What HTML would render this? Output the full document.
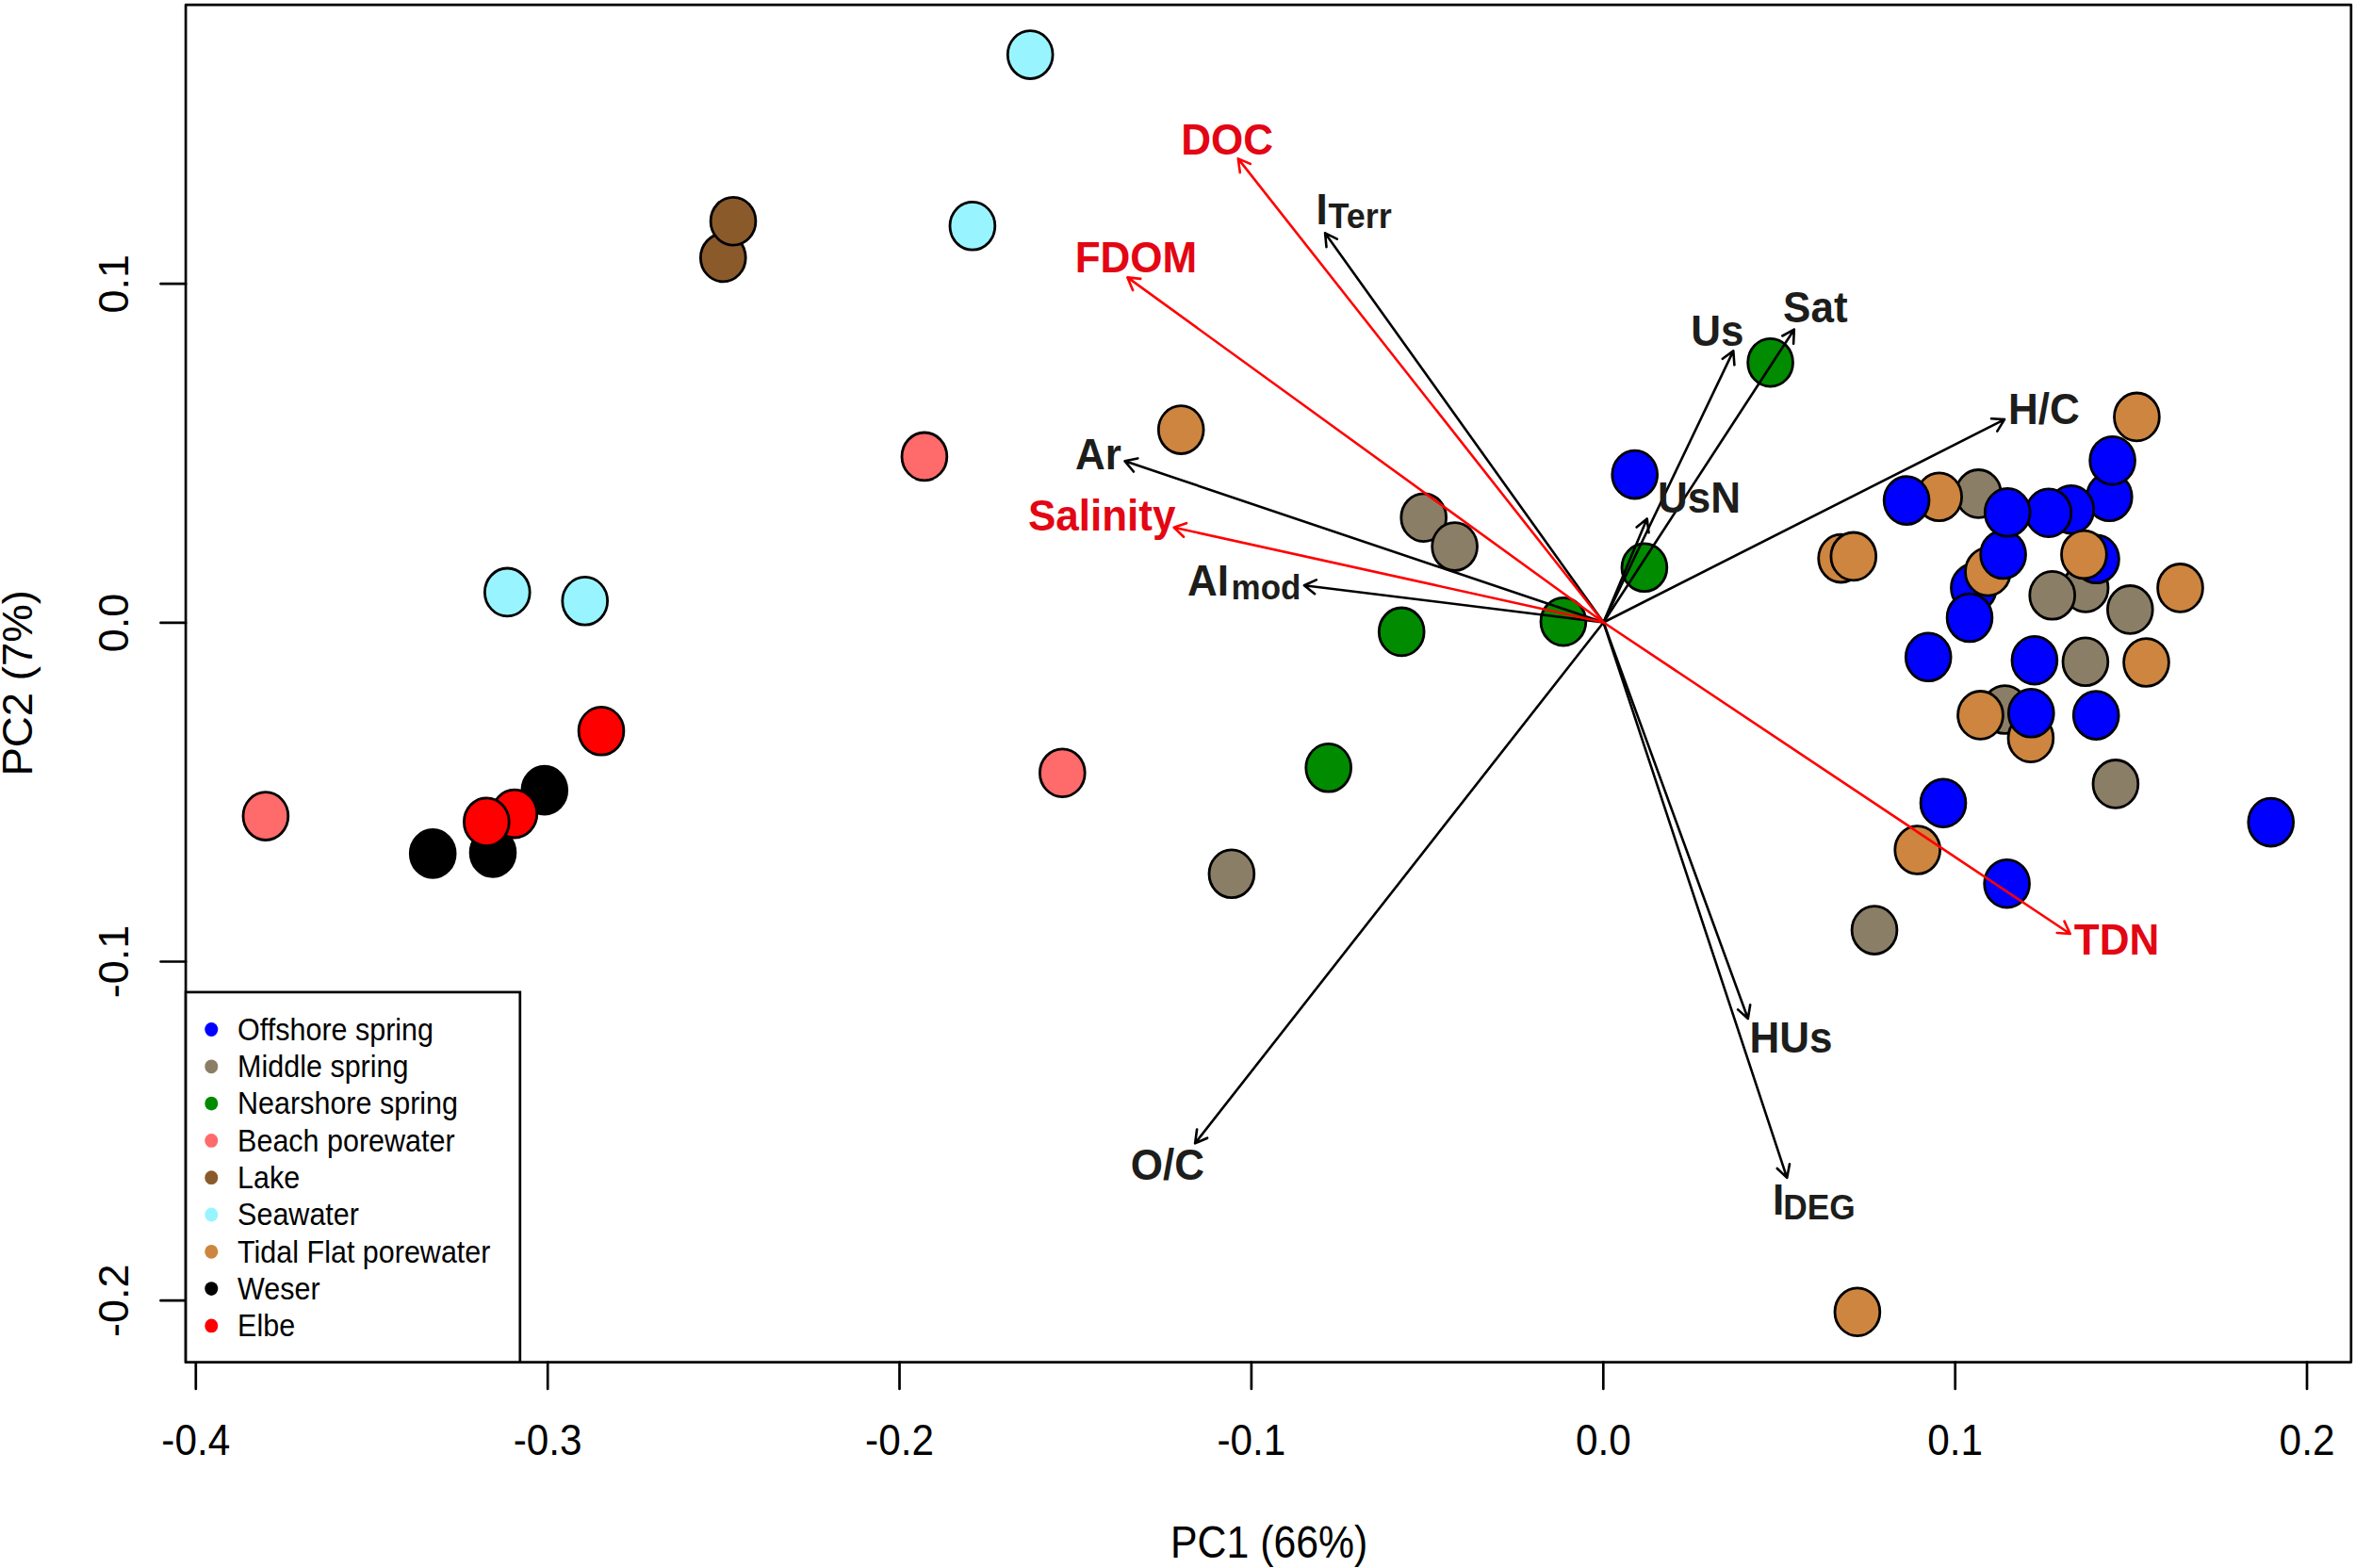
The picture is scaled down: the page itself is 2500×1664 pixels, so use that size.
<!DOCTYPE html>
<html><head><meta charset="utf-8"><title>PCA biplot</title>
<style>
html,body{margin:0;padding:0;background:#fff;}
svg{display:block;}
text{font-family:"Liberation Sans",Arial,Helvetica,sans-serif;}
.ax{font-size:42.3px;fill:#000;}
.lg{font-size:30.5px;fill:#000;}
.lb{font-size:44px;font-weight:bold;}
.sb{font-size:36px;font-weight:bold;}
.k{fill:#1d1d1b;}
.r{fill:#e30613;}
</style></head><body>
<svg width="2500" height="1664" viewBox="0 0 2500 1664">
<rect width="2500" height="1664" fill="#fff"/>
<ellipse cx="577.8" cy="838.6" rx="23.9" ry="25.4" fill="#000000" stroke="#000" stroke-width="2.8"/>
<ellipse cx="523.0" cy="904.9" rx="23.9" ry="25.4" fill="#000000" stroke="#000" stroke-width="2.8"/>
<ellipse cx="459.2" cy="905.9" rx="23.9" ry="25.4" fill="#000000" stroke="#000" stroke-width="2.8"/>
<ellipse cx="638.0" cy="775.8" rx="23.9" ry="25.4" fill="#FF0000" stroke="#000" stroke-width="2.8"/>
<ellipse cx="545.9" cy="863.6" rx="23.9" ry="25.4" fill="#FF0000" stroke="#000" stroke-width="2.8"/>
<ellipse cx="516.3" cy="872.2" rx="23.9" ry="25.4" fill="#FF0000" stroke="#000" stroke-width="2.8"/>
<ellipse cx="281.9" cy="866.1" rx="23.9" ry="25.4" fill="#FF6A6A" stroke="#000" stroke-width="2.8"/>
<ellipse cx="538.3" cy="628.4" rx="23.9" ry="25.4" fill="#98F5FF" stroke="#000" stroke-width="2.8"/>
<ellipse cx="620.7" cy="637.8" rx="23.9" ry="25.4" fill="#98F5FF" stroke="#000" stroke-width="2.8"/>
<ellipse cx="1093.2" cy="58.1" rx="23.9" ry="25.4" fill="#98F5FF" stroke="#000" stroke-width="2.8"/>
<ellipse cx="1031.9" cy="239.8" rx="23.9" ry="25.4" fill="#98F5FF" stroke="#000" stroke-width="2.8"/>
<ellipse cx="767.3" cy="273.4" rx="23.9" ry="25.4" fill="#8B5A2B" stroke="#000" stroke-width="2.8"/>
<ellipse cx="778.0" cy="234.7" rx="23.9" ry="25.4" fill="#8B5A2B" stroke="#000" stroke-width="2.8"/>
<ellipse cx="980.9" cy="484.4" rx="23.9" ry="25.4" fill="#FF6A6A" stroke="#000" stroke-width="2.8"/>
<ellipse cx="1253.2" cy="456.1" rx="23.9" ry="25.4" fill="#CD853F" stroke="#000" stroke-width="2.8"/>
<ellipse cx="1127.3" cy="820.2" rx="23.9" ry="25.4" fill="#FF6A6A" stroke="#000" stroke-width="2.8"/>
<ellipse cx="1409.7" cy="814.8" rx="23.9" ry="25.4" fill="#008B00" stroke="#000" stroke-width="2.8"/>
<ellipse cx="1306.9" cy="927.3" rx="23.9" ry="25.4" fill="#8B7E66" stroke="#000" stroke-width="2.8"/>
<ellipse cx="1510.7" cy="549.2" rx="23.9" ry="25.4" fill="#8B7E66" stroke="#000" stroke-width="2.8"/>
<ellipse cx="1543.6" cy="580.1" rx="23.9" ry="25.4" fill="#8B7E66" stroke="#000" stroke-width="2.8"/>
<ellipse cx="1734.7" cy="503.6" rx="23.9" ry="25.4" fill="#0000FF" stroke="#000" stroke-width="2.8"/>
<ellipse cx="1878.6" cy="384.7" rx="23.9" ry="25.4" fill="#008B00" stroke="#000" stroke-width="2.8"/>
<ellipse cx="1744.9" cy="602.3" rx="23.9" ry="25.4" fill="#008B00" stroke="#000" stroke-width="2.8"/>
<ellipse cx="1658.9" cy="659.7" rx="23.9" ry="25.4" fill="#008B00" stroke="#000" stroke-width="2.8"/>
<ellipse cx="1487.2" cy="670.4" rx="23.9" ry="25.4" fill="#008B00" stroke="#000" stroke-width="2.8"/>
<ellipse cx="1953.6" cy="592.6" rx="23.9" ry="25.4" fill="#CD853F" stroke="#000" stroke-width="2.8"/>
<ellipse cx="1966.8" cy="590.4" rx="23.9" ry="25.4" fill="#CD853F" stroke="#000" stroke-width="2.8"/>
<ellipse cx="2267.4" cy="442.4" rx="23.9" ry="25.4" fill="#CD853F" stroke="#000" stroke-width="2.8"/>
<ellipse cx="2238.3" cy="527.3" rx="23.9" ry="25.4" fill="#0000FF" stroke="#000" stroke-width="2.8"/>
<ellipse cx="2241.6" cy="488.7" rx="23.9" ry="25.4" fill="#0000FF" stroke="#000" stroke-width="2.8"/>
<ellipse cx="2197.8" cy="540.7" rx="23.9" ry="25.4" fill="#0000FF" stroke="#000" stroke-width="2.8"/>
<ellipse cx="2173.9" cy="544.2" rx="23.9" ry="25.4" fill="#0000FF" stroke="#000" stroke-width="2.8"/>
<ellipse cx="2099.4" cy="523.9" rx="23.9" ry="25.4" fill="#8B7E66" stroke="#000" stroke-width="2.8"/>
<ellipse cx="2057.7" cy="527.3" rx="23.9" ry="25.4" fill="#CD853F" stroke="#000" stroke-width="2.8"/>
<ellipse cx="2023.1" cy="531.1" rx="23.9" ry="25.4" fill="#0000FF" stroke="#000" stroke-width="2.8"/>
<ellipse cx="2094.4" cy="623.9" rx="23.9" ry="25.4" fill="#0000FF" stroke="#000" stroke-width="2.8"/>
<ellipse cx="2109.4" cy="606.7" rx="23.9" ry="25.4" fill="#CD853F" stroke="#000" stroke-width="2.8"/>
<ellipse cx="2125.6" cy="588.5" rx="23.9" ry="25.4" fill="#0000FF" stroke="#000" stroke-width="2.8"/>
<ellipse cx="2130.2" cy="543.8" rx="23.9" ry="25.4" fill="#0000FF" stroke="#000" stroke-width="2.8"/>
<ellipse cx="2090.0" cy="655.5" rx="23.9" ry="25.4" fill="#0000FF" stroke="#000" stroke-width="2.8"/>
<ellipse cx="2213.1" cy="623.9" rx="23.9" ry="25.4" fill="#8B7E66" stroke="#000" stroke-width="2.8"/>
<ellipse cx="2224.5" cy="593.3" rx="23.9" ry="25.4" fill="#0000FF" stroke="#000" stroke-width="2.8"/>
<ellipse cx="2211.4" cy="588.5" rx="23.9" ry="25.4" fill="#CD853F" stroke="#000" stroke-width="2.8"/>
<ellipse cx="2177.7" cy="631.8" rx="23.9" ry="25.4" fill="#8B7E66" stroke="#000" stroke-width="2.8"/>
<ellipse cx="2260.3" cy="646.9" rx="23.9" ry="25.4" fill="#8B7E66" stroke="#000" stroke-width="2.8"/>
<ellipse cx="2313.5" cy="623.9" rx="23.9" ry="25.4" fill="#CD853F" stroke="#000" stroke-width="2.8"/>
<ellipse cx="2046.2" cy="697.3" rx="23.9" ry="25.4" fill="#0000FF" stroke="#000" stroke-width="2.8"/>
<ellipse cx="2158.9" cy="700.7" rx="23.9" ry="25.4" fill="#0000FF" stroke="#000" stroke-width="2.8"/>
<ellipse cx="2212.9" cy="702.3" rx="23.9" ry="25.4" fill="#8B7E66" stroke="#000" stroke-width="2.8"/>
<ellipse cx="2277.5" cy="703.0" rx="23.9" ry="25.4" fill="#CD853F" stroke="#000" stroke-width="2.8"/>
<ellipse cx="2127.4" cy="753.0" rx="23.9" ry="25.4" fill="#8B7E66" stroke="#000" stroke-width="2.8"/>
<ellipse cx="2101.5" cy="758.9" rx="23.9" ry="25.4" fill="#CD853F" stroke="#000" stroke-width="2.8"/>
<ellipse cx="2154.9" cy="783.2" rx="23.9" ry="25.4" fill="#CD853F" stroke="#000" stroke-width="2.8"/>
<ellipse cx="2155.3" cy="756.8" rx="23.9" ry="25.4" fill="#0000FF" stroke="#000" stroke-width="2.8"/>
<ellipse cx="2224.2" cy="759.1" rx="23.9" ry="25.4" fill="#0000FF" stroke="#000" stroke-width="2.8"/>
<ellipse cx="2244.9" cy="831.9" rx="23.9" ry="25.4" fill="#8B7E66" stroke="#000" stroke-width="2.8"/>
<ellipse cx="2062.0" cy="852.2" rx="23.9" ry="25.4" fill="#0000FF" stroke="#000" stroke-width="2.8"/>
<ellipse cx="2034.7" cy="902.0" rx="23.9" ry="25.4" fill="#CD853F" stroke="#000" stroke-width="2.8"/>
<ellipse cx="2129.6" cy="937.7" rx="23.9" ry="25.4" fill="#0000FF" stroke="#000" stroke-width="2.8"/>
<ellipse cx="1989.0" cy="987.1" rx="23.9" ry="25.4" fill="#8B7E66" stroke="#000" stroke-width="2.8"/>
<ellipse cx="2409.7" cy="872.6" rx="23.9" ry="25.4" fill="#0000FF" stroke="#000" stroke-width="2.8"/>
<ellipse cx="1970.9" cy="1392.2" rx="23.9" ry="25.4" fill="#CD853F" stroke="#000" stroke-width="2.8"/>
<path d="M1701.5 660.5L1406.1 247.4M1407.5 262.2L1406.1 247.4L1418.8 253.6" fill="none" stroke="#000" stroke-width="2.6" stroke-linecap="round" stroke-linejoin="round"/>
<path d="M1701.5 660.5L1193.6 489.3M1202.9 500.5L1193.6 489.3L1207.3 486.4" fill="none" stroke="#000" stroke-width="2.6" stroke-linecap="round" stroke-linejoin="round"/>
<path d="M1701.5 660.5L1383.9 621.2M1395.1 630.2L1383.9 621.2L1396.8 615.4" fill="none" stroke="#000" stroke-width="2.6" stroke-linecap="round" stroke-linejoin="round"/>
<path d="M1701.5 660.5L1839.3 372.4M1827.8 380.8L1839.3 372.4L1840.4 387.3" fill="none" stroke="#000" stroke-width="2.6" stroke-linecap="round" stroke-linejoin="round"/>
<path d="M1701.5 660.5L1903.8 349.7M1891.3 356.5L1903.8 349.7L1903.1 364.6" fill="none" stroke="#000" stroke-width="2.6" stroke-linecap="round" stroke-linejoin="round"/>
<path d="M1701.5 660.5L1747.7 550.5M1736.6 559.5L1747.7 550.5L1749.5 565.3" fill="none" stroke="#000" stroke-width="2.6" stroke-linecap="round" stroke-linejoin="round"/>
<path d="M1701.5 660.5L2127.0 445.1M2113.0 444.3L2127.0 445.1L2119.3 457.6" fill="none" stroke="#000" stroke-width="2.6" stroke-linecap="round" stroke-linejoin="round"/>
<path d="M1701.5 660.5L1268.1 1213.3M1281.1 1207.7L1268.1 1213.3L1270.1 1198.5" fill="none" stroke="#000" stroke-width="2.6" stroke-linecap="round" stroke-linejoin="round"/>
<path d="M1701.5 660.5L1854.8 1081.0M1857.2 1066.3L1854.8 1081.0L1844.1 1071.4" fill="none" stroke="#000" stroke-width="2.6" stroke-linecap="round" stroke-linejoin="round"/>
<path d="M1701.5 660.5L1896.2 1249.9M1899.0 1235.3L1896.2 1249.9L1885.8 1240.0" fill="none" stroke="#000" stroke-width="2.6" stroke-linecap="round" stroke-linejoin="round"/>
<path d="M1701.5 660.5L1313.8 168.4M1315.8 183.2L1313.8 168.4L1326.8 173.9" fill="none" stroke="#FF0000" stroke-width="2.6" stroke-linecap="round" stroke-linejoin="round"/>
<path d="M1701.5 660.5L1196.4 294.4M1202.1 308.0L1196.4 294.4L1210.3 295.9" fill="none" stroke="#FF0000" stroke-width="2.6" stroke-linecap="round" stroke-linejoin="round"/>
<path d="M1701.5 660.5L1245.7 559.7M1256.0 569.8L1245.7 559.7L1259.0 555.2" fill="none" stroke="#FF0000" stroke-width="2.6" stroke-linecap="round" stroke-linejoin="round"/>
<path d="M1701.5 660.5L2196.7 991.0M2190.5 977.6L2196.7 991.0L2182.7 990.0" fill="none" stroke="#FF0000" stroke-width="2.6" stroke-linecap="round" stroke-linejoin="round"/>
<rect x="197.1" y="5.1" width="2297.7000000000003" height="1440.5" fill="none" stroke="#000" stroke-width="2.7" stroke-linejoin="round"/>
<path d="M207.8 1445.6V1474.0M581.2 1445.6V1474.0M954.5 1445.6V1474.0M1327.9 1445.6V1474.0M1701.3 1445.6V1474.0M2074.7 1445.6V1474.0M2448.0 1445.6V1474.0M197.1 301.2H170.5M197.1 660.9H170.5M197.1 1020.5H170.5M197.1 1380.2H170.5" stroke="#000" stroke-width="2.7" stroke-linecap="round" fill="none"/>
<text class="ax" text-anchor="middle" transform="translate(207.8 1543.8) scale(1 1.1076)">-0.4</text>
<text class="ax" text-anchor="middle" transform="translate(581.2 1543.8) scale(1 1.1076)">-0.3</text>
<text class="ax" text-anchor="middle" transform="translate(954.5 1543.8) scale(1 1.1076)">-0.2</text>
<text class="ax" text-anchor="middle" transform="translate(1327.9 1543.8) scale(1 1.1076)">-0.1</text>
<text class="ax" text-anchor="middle" transform="translate(1701.3 1543.8) scale(1 1.1076)">0.0</text>
<text class="ax" text-anchor="middle" transform="translate(2074.7 1543.8) scale(1 1.1076)">0.1</text>
<text class="ax" text-anchor="middle" transform="translate(2448.0 1543.8) scale(1 1.1076)">0.2</text>
<text class="ax" text-anchor="middle" transform="translate(136.3 301.2) rotate(-90) scale(1.065 1.04)">0.1</text>
<text class="ax" text-anchor="middle" transform="translate(136.3 660.9) rotate(-90) scale(1.065 1.04)">0.0</text>
<text class="ax" text-anchor="middle" transform="translate(136.3 1020.5) rotate(-90) scale(1.065 1.04)">-0.1</text>
<text class="ax" text-anchor="middle" transform="translate(136.3 1380.2) rotate(-90) scale(1.065 1.04)">-0.2</text>
<text class="ax" style="font-size:42.8px" text-anchor="middle" transform="translate(1346.7 1653) scale(1 1.1076)">PC1 (66%)</text>
<text class="ax" style="font-size:42.8px" text-anchor="middle" transform="translate(34.1 724.8) rotate(-90) scale(1.065 1.04)">PC2 (7%)</text>
<rect x="197.1" y="1052.9" width="354.69999999999993" height="392.6999999999998" fill="#fff" stroke="#000" stroke-width="2.7"/>
<ellipse cx="224.3" cy="1092.5" rx="7.0" ry="7.4" fill="#0000FF"/>
<text class="lg" transform="translate(252.1 1103.8) scale(1 1.065)">Offshore spring</text>
<ellipse cx="224.3" cy="1131.8" rx="7.0" ry="7.4" fill="#8B7E66"/>
<text class="lg" transform="translate(252.1 1143.1) scale(1 1.065)">Middle spring</text>
<ellipse cx="224.3" cy="1171.1" rx="7.0" ry="7.4" fill="#008B00"/>
<text class="lg" transform="translate(252.1 1182.4) scale(1 1.065)">Nearshore spring</text>
<ellipse cx="224.3" cy="1210.4" rx="7.0" ry="7.4" fill="#FF6A6A"/>
<text class="lg" transform="translate(252.1 1221.7) scale(1 1.065)">Beach porewater</text>
<ellipse cx="224.3" cy="1249.7" rx="7.0" ry="7.4" fill="#8B5A2B"/>
<text class="lg" transform="translate(252.1 1261.0) scale(1 1.065)">Lake</text>
<ellipse cx="224.3" cy="1289.0" rx="7.0" ry="7.4" fill="#98F5FF"/>
<text class="lg" transform="translate(252.1 1300.3) scale(1 1.065)">Seawater</text>
<ellipse cx="224.3" cy="1328.3" rx="7.0" ry="7.4" fill="#CD853F"/>
<text class="lg" transform="translate(252.1 1339.6) scale(1 1.065)">Tidal Flat porewater</text>
<ellipse cx="224.3" cy="1367.6" rx="7.0" ry="7.4" fill="#000000"/>
<text class="lg" transform="translate(252.1 1378.9) scale(1 1.065)">Weser</text>
<ellipse cx="224.3" cy="1406.9" rx="7.0" ry="7.4" fill="#FF0000"/>
<text class="lg" transform="translate(252.1 1418.2) scale(1 1.065)">Elbe</text>
<text class="lb r" transform="translate(1253.2 164.3) scale(1 1.04)">DOC</text>
<text class="lb r" transform="translate(1140.7 289.2) scale(1 1.04)">FDOM</text>
<text class="lb r" transform="translate(1091.0 563.0) scale(1 1.04)">Salinity</text>
<text class="lb r" transform="translate(2200.8 1012.7) scale(1 1.04)">TDN</text>
<text class="lb k" transform="translate(1141.0 498.2) scale(1 1.04)">Ar</text>
<text class="lb k" transform="translate(1794.2 366.8) scale(1 1.04)">Us</text>
<text class="lb k" transform="translate(1892.1 342.1) scale(1 1.04)">Sat</text>
<text class="lb k" transform="translate(1759.0 544.4) scale(1 1.04)">UsN</text>
<text class="lb k" transform="translate(2130.9 449.8) scale(1 1.04)">H/C</text>
<text class="lb k" transform="translate(1199.8 1251.5) scale(1 1.04)">O/C</text>
<text class="lb k" transform="translate(1856.5 1117.2) scale(1 1.04)">HUs</text>
<text class="lb k" transform="translate(1396.5 237.8) scale(1 1.04)">I<tspan class="sb" dx="0.7" dy="4">Terr</tspan></text>
<text class="lb k" transform="translate(1260 631.9) scale(1 1.04)">AI<tspan class="sb" style="font-size:35px" dx="2.6" dy="4.3">mod</tspan></text>
<text class="lb k" transform="translate(1881 1288.9) scale(1 1.04)">I<tspan class="sb" style="font-size:35.3px" dx="-1" dy="4.6">DEG</tspan></text>
</svg></body></html>
